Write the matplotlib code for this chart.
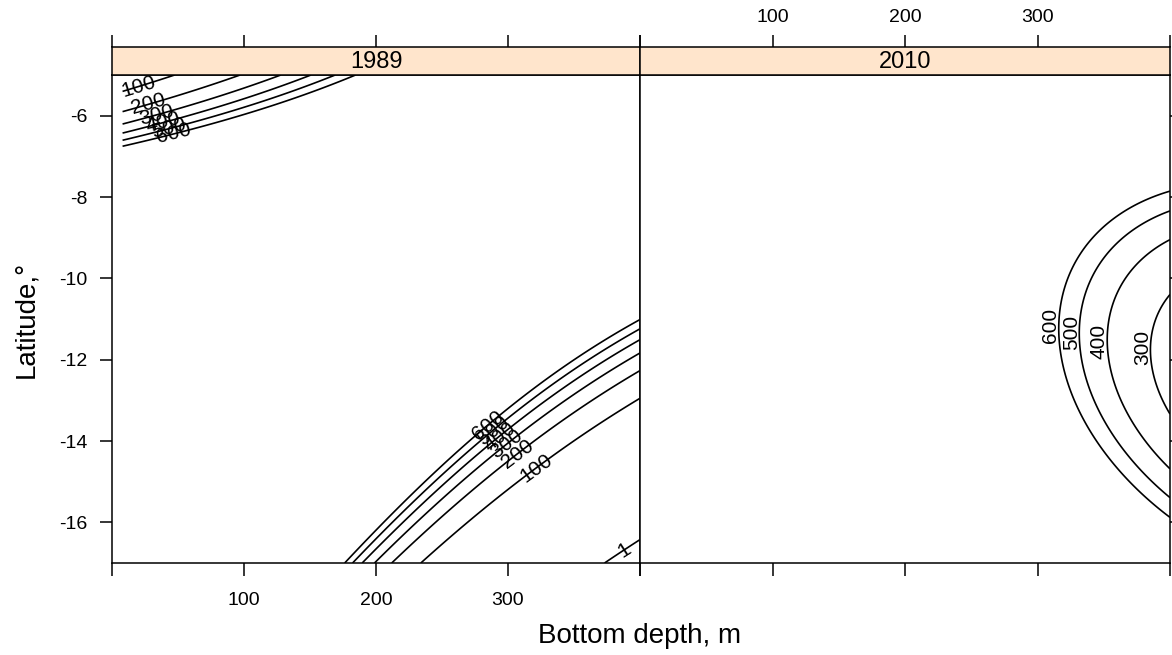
import numpy as np
import matplotlib
matplotlib.use("Agg")
import matplotlib.pyplot as plt

plt.rcParams["font.family"] = ["Liberation Sans", "DejaVu Sans"]

years = ["1989", "2010"]
levels = [1, 100, 200, 300, 400, 500, 600]

# log-scale quadratic surface per year, terms: 1, u, v, u^2, v^2, u*v
# with u = (depth - 200) / 100 and v = (lat + 11) / 3
coef_1989 = [8.7802, -0.9807, 0.2267, -0.1029, -0.6646, 1.0575]
coef_2010 = [8.2813, -2.0332, -0.1898, 0.3547, 0.4478, 0.2243]

depth_range = [8, 400]
lat_range = [-17, -5]

# where the contour labels sit (depth, latitude)
labels_1989 = {100: [(21, -5.35), (314, -14.34)],
               200: [(28, -5.75), (300, -14.0)],
               300: [(34, -6.0), (294, -13.85)],
               400: [(38, -6.1), (289, -13.7)],
               500: [(42, -6.2), (283, -13.5)],
               600: [(46, -6.3), (277, -13.3)],
               1: [(386, -16.56)]}
labels_2010 = {600: [(316, -11.15)], 500: [(335, -11.32)],
               400: [(357, -11.54)], 300: [(386, -11.71)]}

x_ticks = [100, 200, 300]
y_ticks = [-6, -8, -10, -12, -14, -16]


def surface(coef, X, Y):
    u = (X - 200) / 100
    v = (Y + 11) / 3
    eta = (coef[0] + coef[1] * u + coef[2] * v + coef[3] * u * u
           + coef[4] * v * v + coef[5] * u * v)
    return np.exp(eta)


xg = np.linspace(depth_range[0], depth_range[1], 300)
yg = np.linspace(lat_range[0], lat_range[1], 300)
X, Y = np.meshgrid(xg, yg)

W, H = 1172, 655
fig = plt.figure(figsize=(W / 100, H / 100), dpi=100)


def box(l, t, r, b):
    return [l / W, 1 - b / H, (r - l) / W, (b - t) / H]


tick_kw = dict(direction="out", length=9, width=1.1, color="black", labelsize=14, labelcolor="black")

panels = [(112, 640, coef_1989, labels_1989), (640, 1170, coef_2010, labels_2010)]
for i, (left, right, coef, lab) in enumerate(panels):
    ax = fig.add_axes(box(left, 75, right, 563))
    Z = surface(coef, X, Y)
    for lev in levels:
        if Z.min() < lev < Z.max():
            cs = ax.contour(X, Y, Z, levels=[lev], colors="black", linewidths=1.2)
            if lev in lab:
                txts = ax.clabel(cs, manual=lab[lev], inline=False, fontsize=15, fmt="%d", colors="black")
                if i == 1:
                    # 2010 labels read upwards, just left of the curve
                    for t in txts:
                        px, py = t.get_position()
                        t.set_position((px - 6, py))
                        t.set_rotation(90)
    ax.set_xlim(0, 400)
    ax.set_ylim(-17, -5)
    ax.set_xticks(x_ticks)
    ax.set_xticks([0, 400], minor=True)
    ax.set_yticks(y_ticks)
    ax.tick_params(axis="both", which="both", **tick_kw)
    for sp in ax.spines.values():
        sp.set_linewidth(1.1)
    if i == 0:
        ax.tick_params(axis="x", pad=12)
        ax.tick_params(axis="y", pad=9)
        ax.set_yticklabels([str(t) for t in y_ticks])
        ax.yaxis.set_ticks_position("left")
    else:
        ax.set_xticklabels([])
        ax.yaxis.set_ticks_position("right")
        ax.tick_params(axis="y", labelright=False, labelleft=False)

    # strip with the year
    st = fig.add_axes(box(left, 47, right, 75))
    st.set_facecolor("#FFE5CC")
    st.set_xlim(0, 400)
    st.set_ylim(0, 1)
    st.set_yticks([])
    st.set_xticks(x_ticks)
    st.set_xticks([0, 400], minor=True)
    st.xaxis.set_ticks_position("top")
    st.tick_params(axis="x", which="both", **tick_kw)
    st.tick_params(axis="x", pad=6)
    if i == 0:
        st.set_xticklabels([])
    for sp in st.spines.values():
        sp.set_linewidth(1.1)
    st.text(0.5, 0.45, years[i], transform=st.transAxes, ha="center", va="center", fontsize=17)

fig.text(640 / W, 1 - 636 / H, "Bottom depth, m", ha="center", va="center", fontsize=20)
fig.text(26 / W, 1 - 319 / H, "Latitude,°", ha="center", va="center", rotation=90, fontsize=20)

fig.savefig("out.png", dpi=100)
